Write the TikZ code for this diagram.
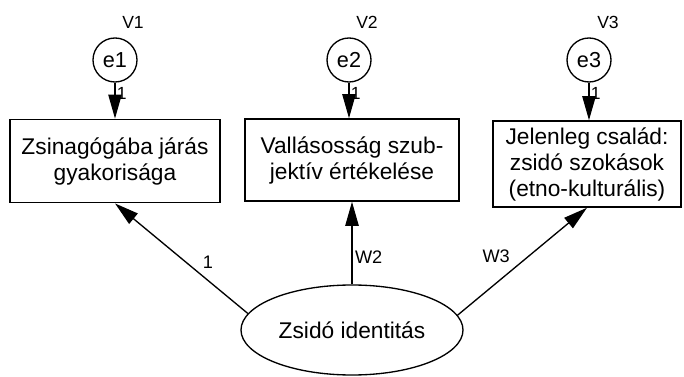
\documentclass[tikz,border=0pt]{standalone}
\usepackage{fontspec}
\setmainfont{Liberation Sans}
\usetikzlibrary{arrows.meta,shapes.geometric}

\tikzset{
	obsbox/.style={draw, line width=0.45mm, inner sep=0pt, align=center,
		font=\fontsize{19.4}{22.2}\selectfont},
	errc/.style={draw, circle, line width=0.4mm, minimum size=1.32cm, inner sep=0pt,
		font=\fontsize{18.5}{18.5}\selectfont},
	latent/.style={draw, ellipse, line width=0.4mm, minimum width=6.66cm, minimum height=2.7cm,
		inner sep=0pt, font=\fontsize{19.4}{22.2}\selectfont},
	varlbl/.style={font=\fontsize{15}{15}\selectfont},
	pathlbl/.style={font=\fontsize{15.5}{15.5}\selectfont},
	onelbl/.style={font=\fontsize{15}{15}\selectfont},
	path/.style={line width=0.4mm, -{Triangle[length=0.72cm, width=0.4cm]}}
}

\begin{document}
\begin{tikzpicture}[x=0.03cm, y=-0.03cm]
		%%%%% START %%%%%
		\useasboundingbox (0, 0) rectangle (684, 377);
		
		\node[obsbox, minimum width=6.3cm, minimum height=2.5cm] (gyak) at (115, 161) {Zsinagógába járás\\gyakorisága};
		\node[obsbox, minimum width=6.42cm, minimum height=2.46cm] (vall) at (352, 160) {Vallásosság szub-\\jektív értékelése};
		\node[obsbox, minimum width=5.64cm, minimum height=2.58cm] (csal) at (587, 164) {Jelenleg család:\\zsidó szokások\\(etno-kulturális)};
		
		\node[errc] (e1) at (115, 60) {e1};
		\node[errc] (e2) at (349, 60) {e2};
		\node[errc] (e3) at (589, 60) {e3};
		
		\node[varlbl] (v1) at (133, 22) {V1};
		\node[varlbl] (v2) at (367, 22) {V2};
		\node[varlbl] (v3) at (608, 22) {V3};
		
		\draw[path] (e1) -- (e1 |- gyak.north) node[onelbl, pos=0.3, right, inner sep=1pt] {1};
		\draw[path] (e2) -- (e2 |- vall.north) node[onelbl, pos=0.3, right, inner sep=1pt] {1};
		\draw[path] (e3) -- (e3 |- csal.north) node[onelbl, pos=0.3, right, inner sep=1pt] {1};
		
		\node[latent] (zsid) at (352, 330) {Zsidó identitás};
		
		\draw[path] (zsid.171) -- (gyak.south) node[pathlbl, pos=0.47, right=0.5cm, inner sep=0pt] {1};
		\draw[path] (zsid.north) -- (zsid.north |- vall.south) node[pathlbl, pos=0.33, right=2pt, inner sep=0pt] {W2};
		\draw[path] (zsid.8) -- (csal.south) node[pathlbl, pos=0.55, left=0.55cm, inner sep=0pt] {W3};
		%%%%% END %%%%%
	\end{tikzpicture}
\end{document}
